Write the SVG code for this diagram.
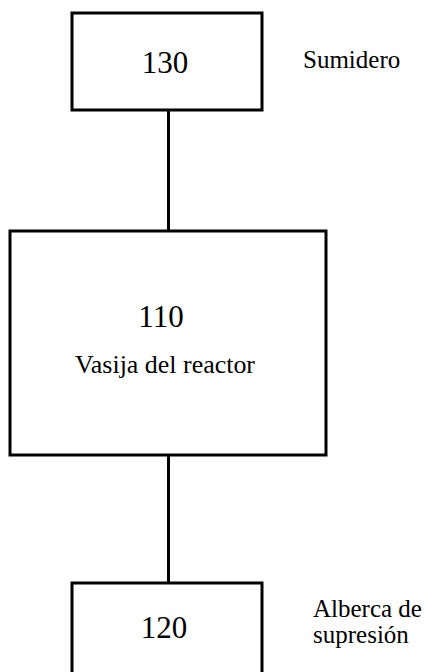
<svg xmlns="http://www.w3.org/2000/svg" width="432" height="672" viewBox="0 0 432 672">
  <style>
    .box { fill: #ffffff; stroke: #000000; stroke-width: 3; }
    .wire { stroke: #000000; stroke-width: 3; fill: none; }
    .num { font-family: "Liberation Serif", "Times New Roman", serif; font-size: 31px; fill: #000000; text-anchor: middle; }
    .lbl { font-family: "Liberation Serif", "Times New Roman", serif; font-size: 25px; fill: #000000; }
  </style>
  <rect width="432" height="672" fill="#ffffff"/>

  <!-- connectors between the three units -->
  <g id="connectors">
    <line class="wire" x1="168.5" y1="110" x2="168.5" y2="231"/>
    <line class="wire" x1="168.5" y1="455" x2="168.5" y2="583"/>
  </g>

  <!-- sump -->
  <g id="node-130">
    <rect class="box" x="72" y="13" width="190" height="97"/>
    <text class="num" x="165" y="73">130</text>
    <text class="lbl" x="303" y="68">Sumidero</text>
  </g>

  <!-- reactor vessel -->
  <g id="node-110">
    <rect class="box" x="10" y="231" width="316" height="224"/>
    <text class="num" x="161" y="327">110</text>
    <text class="lbl" x="75" y="373" textLength="180" lengthAdjust="spacingAndGlyphs">Vasija del reactor</text>
  </g>

  <!-- suppression pool -->
  <g id="node-120">
    <rect class="box" x="72" y="583" width="190" height="110"/>
    <text class="num" x="164" y="638">120</text>
    <text class="lbl" x="313" y="617">Alberca de</text>
    <text class="lbl" x="313" y="643">supresión</text>
  </g>
</svg>
